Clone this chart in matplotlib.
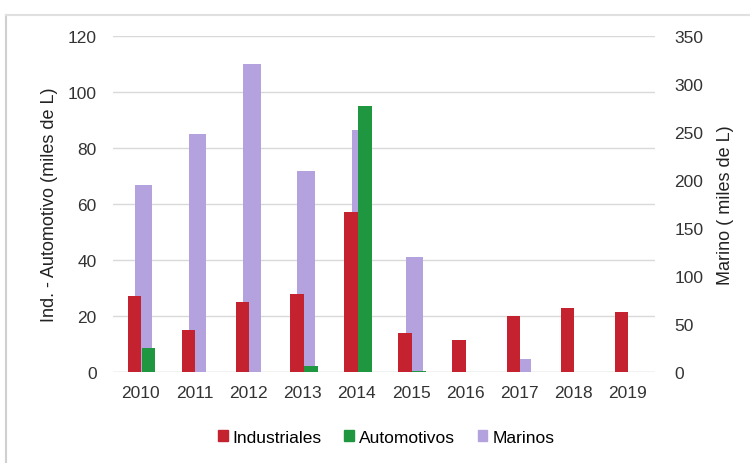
import numpy as np
import matplotlib.pyplot as plt
from matplotlib.patches import Patch
from matplotlib.lines import Line2D

# Volúmenes anuales (miles de L)
years = ['2010', '2011', '2012', '2013', '2014', '2015', '2016', '2017', '2018', '2019']
industriales = [27, 15, 25, 28, 57, 14, 11.5, 20, 23, 21.5]
automotivos = [8.7, 0, 0, 2, 95, 0.4, 0, 0, 0, 0]
marinos = [195, 248, 321, 209, 252, 120, 0, 14, 0, 0]

c_ind = '#c4222f'
c_auto = '#1f9640'
c_mar = '#b3a2dd'

plt.rcParams['font.family'] = ['Liberation Sans', 'DejaVu Sans']

fig = plt.figure(figsize=(7.5, 4.64), dpi=100)
ax = fig.add_axes([0.151, 0.196, 0.722, 0.724])
ax2 = ax.twinx()

x = np.arange(len(years))

# Marinos en el eje secundario, detrás de las otras series
ax2.bar(x + 0.06, marinos, width=0.32, color=c_mar, zorder=1)
ax.set_zorder(ax2.get_zorder() + 1)
ax.patch.set_visible(False)

ax.bar(x - 0.11, industriales, width=0.25, color=c_ind, zorder=3)
ax.bar(x + 0.15, automotivos, width=0.25, color=c_auto, zorder=3)

ax.set_xlim(-0.5, len(years) - 0.5)
ax.set_ylim(0, 120)
ax.set_yticks(range(0, 121, 20))
ax2.set_ylim(0, 350)
ax2.set_yticks(range(0, 351, 50))

ax.set_xticks(x)
ax.set_xticklabels(years)

# cuadrícula horizontal (dibujada en el eje de fondo)
for v in range(20, 121, 20):
    ax2.axhline(v * 350 / 120, color='#d9d9d9', lw=1, zorder=0)
ax2.axhline(0, color='#bfbfbf', lw=1, zorder=0)

for a in (ax, ax2):
    for s in a.spines.values():
        s.set_visible(False)
    a.tick_params(length=0, labelsize=12.5, colors='#333333')
ax.tick_params(axis='y', pad=12)
ax.tick_params(axis='x', pad=9)
ax2.tick_params(axis='y', pad=14)

ax.set_ylabel('Ind. - Automotivo (miles de L)', fontsize=13, color='#222222', labelpad=7)
ax2.set_ylabel('Marino ( miles de L)', fontsize=13, color='#222222', labelpad=10)

handles = [Patch(color=c_ind), Patch(color=c_auto), Patch(color=c_mar)]
fig.legend(handles, ['Industriales', 'Automotivos', 'Marinos'],
           loc='center', bbox_to_anchor=(0.515, 0.056), ncol=3, frameon=False,
           fontsize=12.5, handlelength=0.55, handleheight=0.55, handletextpad=0.3,
           columnspacing=1.3)

# marco claro alrededor del gráfico
fig.add_artist(Line2D([0.008, 0.008], [0.0, 0.966], color='#d0d0d0', lw=1.5))
fig.add_artist(Line2D([0.008, 1.0], [0.966, 0.966], color='#e0e0e0', lw=1.5))

fig.savefig('out.png', dpi=100)
